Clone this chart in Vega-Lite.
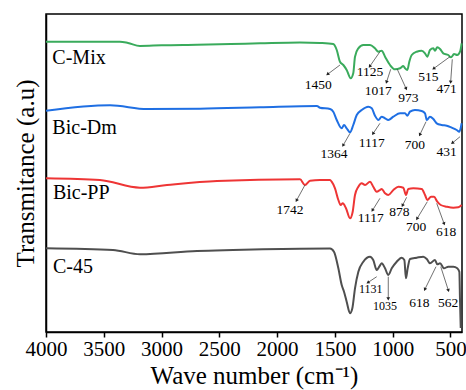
{
  "$schema": "https://vega.github.io/schema/vega-lite/v6.json",
  "width": 416,
  "height": 318,
  "autosize": "none",
  "padding": {"left": 46, "top": 14, "right": 4, "bottom": 58},
  "background": "white",
  "config": {
    "view": {"stroke": "black", "strokeWidth": 1.5},
    "font": "Liberation Serif"
  },
  "datasets": {
    "spectra": [
      {"s":"C-Mix","w":4000,"t":290.3},{"s":"C-Mix","w":3360,"t":290.3},{"s":"C-Mix","w":3290,"t":289},{"s":"C-Mix","w":3187,"t":286},{"s":"C-Mix","w":3000,"t":286.7},{"s":"C-Mix","w":2693,"t":287.3},{"s":"C-Mix","w":2400,"t":288},{"s":"C-Mix","w":2148,"t":288.7},{"s":"C-Mix","w":1802,"t":289.5},{"s":"C-Mix","w":1629,"t":289},{"s":"C-Mix","w":1514,"t":288},{"s":"C-Mix","w":1484,"t":282},{"s":"C-Mix","w":1456,"t":270.3},{"s":"C-Mix","w":1427,"t":267},{"s":"C-Mix","w":1398,"t":262},{"s":"C-Mix","w":1363,"t":253.7},{"s":"C-Mix","w":1341,"t":258.7},{"s":"C-Mix","w":1326,"t":275.3},{"s":"C-Mix","w":1297,"t":283.7},{"s":"C-Mix","w":1254,"t":287},{"s":"C-Mix","w":1196,"t":287},{"s":"C-Mix","w":1153,"t":283.7},{"s":"C-Mix","w":1124,"t":280.3},{"s":"C-Mix","w":1095,"t":281.3},{"s":"C-Mix","w":1066,"t":275.3},{"s":"C-Mix","w":1023,"t":267},{"s":"C-Mix","w":980,"t":262.7},{"s":"C-Mix","w":936,"t":263.7},{"s":"C-Mix","w":908,"t":266},{"s":"C-Mix","w":893,"t":263.7},{"s":"C-Mix","w":873,"t":262},{"s":"C-Mix","w":856,"t":270.3},{"s":"C-Mix","w":835,"t":277},{"s":"C-Mix","w":792,"t":280.3},{"s":"C-Mix","w":749,"t":281.3},{"s":"C-Mix","w":720,"t":278.7},{"s":"C-Mix","w":700,"t":275.3},{"s":"C-Mix","w":677,"t":282},{"s":"C-Mix","w":648,"t":283.7},{"s":"C-Mix","w":634,"t":281.3},{"s":"C-Mix","w":614,"t":284.7},{"s":"C-Mix","w":590,"t":283},{"s":"C-Mix","w":562,"t":278.7},{"s":"C-Mix","w":519,"t":277},{"s":"C-Mix","w":495,"t":274.7},{"s":"C-Mix","w":469,"t":278},{"s":"C-Mix","w":441,"t":277},{"s":"C-Mix","w":417,"t":280.3},{"s":"C-Mix","w":403,"t":288.7},
      {"s":"Bic-Dm","w":4000,"t":221.3},{"s":"Bic-Dm","w":3446,"t":226.7},{"s":"Bic-Dm","w":3126,"t":223},{"s":"Bic-Dm","w":2667,"t":223.3},{"s":"Bic-Dm","w":2148,"t":224.7},{"s":"Bic-Dm","w":1655,"t":226},{"s":"Bic-Dm","w":1629,"t":224.3},{"s":"Bic-Dm","w":1542,"t":223},{"s":"Bic-Dm","w":1514,"t":220.3},{"s":"Bic-Dm","w":1484,"t":212},{"s":"Bic-Dm","w":1441,"t":203.7},{"s":"Bic-Dm","w":1421,"t":207},{"s":"Bic-Dm","w":1398,"t":203.7},{"s":"Bic-Dm","w":1369,"t":199.7},{"s":"Bic-Dm","w":1341,"t":207},{"s":"Bic-Dm","w":1311,"t":217},{"s":"Bic-Dm","w":1268,"t":222},{"s":"Bic-Dm","w":1211,"t":225.3},{"s":"Bic-Dm","w":1181,"t":223.7},{"s":"Bic-Dm","w":1153,"t":216.3},{"s":"Bic-Dm","w":1124,"t":212},{"s":"Bic-Dm","w":1095,"t":215.3},{"s":"Bic-Dm","w":1066,"t":213.7},{"s":"Bic-Dm","w":1038,"t":212},{"s":"Bic-Dm","w":994,"t":215.3},{"s":"Bic-Dm","w":936,"t":218.7},{"s":"Bic-Dm","w":893,"t":218.7},{"s":"Bic-Dm","w":873,"t":216.3},{"s":"Bic-Dm","w":850,"t":220.3},{"s":"Bic-Dm","w":807,"t":222},{"s":"Bic-Dm","w":749,"t":221},{"s":"Bic-Dm","w":720,"t":218.7},{"s":"Bic-Dm","w":705,"t":212},{"s":"Bic-Dm","w":677,"t":215.3},{"s":"Bic-Dm","w":648,"t":213},{"s":"Bic-Dm","w":619,"t":208.7},{"s":"Bic-Dm","w":576,"t":207},{"s":"Bic-Dm","w":532,"t":206.3},{"s":"Bic-Dm","w":489,"t":204.3},{"s":"Bic-Dm","w":446,"t":202},{"s":"Bic-Dm","w":423,"t":200.3},{"s":"Bic-Dm","w":403,"t":208.7},
      {"s":"Bic-PP","w":4000,"t":153.7},{"s":"Bic-PP","w":3533,"t":152},{"s":"Bic-PP","w":3187,"t":144.3},{"s":"Bic-PP","w":2953,"t":147},{"s":"Bic-PP","w":2520,"t":151},{"s":"Bic-PP","w":1802,"t":152.7},{"s":"Bic-PP","w":1759,"t":147},{"s":"Bic-PP","w":1715,"t":151.3},{"s":"Bic-PP","w":1629,"t":152},{"s":"Bic-PP","w":1542,"t":152},{"s":"Bic-PP","w":1528,"t":150.3},{"s":"Bic-PP","w":1499,"t":143.7},{"s":"Bic-PP","w":1470,"t":132},{"s":"Bic-PP","w":1450,"t":127},{"s":"Bic-PP","w":1432,"t":128.7},{"s":"Bic-PP","w":1404,"t":123.7},{"s":"Bic-PP","w":1369,"t":113.7},{"s":"Bic-PP","w":1346,"t":120.3},{"s":"Bic-PP","w":1326,"t":137},{"s":"Bic-PP","w":1297,"t":145.3},{"s":"Bic-PP","w":1268,"t":148.7},{"s":"Bic-PP","w":1239,"t":147},{"s":"Bic-PP","w":1196,"t":150.3},{"s":"Bic-PP","w":1168,"t":145.3},{"s":"Bic-PP","w":1138,"t":140.3},{"s":"Bic-PP","w":1110,"t":142},{"s":"Bic-PP","w":1095,"t":143},{"s":"Bic-PP","w":1066,"t":138.7},{"s":"Bic-PP","w":1038,"t":137},{"s":"Bic-PP","w":994,"t":142},{"s":"Bic-PP","w":951,"t":145.3},{"s":"Bic-PP","w":908,"t":144.3},{"s":"Bic-PP","w":885,"t":137},{"s":"Bic-PP","w":865,"t":143},{"s":"Bic-PP","w":821,"t":143.7},{"s":"Bic-PP","w":749,"t":143},{"s":"Bic-PP","w":720,"t":137},{"s":"Bic-PP","w":700,"t":132},{"s":"Bic-PP","w":668,"t":135.3},{"s":"Bic-PP","w":642,"t":135.3},{"s":"Bic-PP","w":614,"t":130.3},{"s":"Bic-PP","w":584,"t":127},{"s":"Bic-PP","w":532,"t":125.3},{"s":"Bic-PP","w":475,"t":124.3},{"s":"Bic-PP","w":432,"t":124.7},{"s":"Bic-PP","w":403,"t":127},
      {"s":"C-45","w":4000,"t":83.7},{"s":"C-45","w":3420,"t":82},{"s":"C-45","w":3187,"t":77.7},{"s":"C-45","w":2693,"t":81},{"s":"C-45","w":2382,"t":82},{"s":"C-45","w":2122,"t":82.7},{"s":"C-45","w":1542,"t":83.5},{"s":"C-45","w":1508,"t":80.3},{"s":"C-45","w":1470,"t":63.7},{"s":"C-45","w":1441,"t":47},{"s":"C-45","w":1421,"t":40.3},{"s":"C-45","w":1398,"t":30.3},{"s":"C-45","w":1369,"t":18.7},{"s":"C-45","w":1349,"t":23.7},{"s":"C-45","w":1326,"t":43.7},{"s":"C-45","w":1297,"t":60.3},{"s":"C-45","w":1254,"t":70.3},{"s":"C-45","w":1196,"t":75.3},{"s":"C-45","w":1168,"t":72},{"s":"C-45","w":1138,"t":62},{"s":"C-45","w":1116,"t":65.3},{"s":"C-45","w":1095,"t":68.7},{"s":"C-45","w":1066,"t":63.7},{"s":"C-45","w":1038,"t":57},{"s":"C-45","w":1008,"t":63.7},{"s":"C-45","w":965,"t":70.3},{"s":"C-45","w":922,"t":74.3},{"s":"C-45","w":899,"t":72},{"s":"C-45","w":885,"t":53.7},{"s":"C-45","w":870,"t":63.7},{"s":"C-45","w":850,"t":73},{"s":"C-45","w":792,"t":74.3},{"s":"C-45","w":735,"t":75.3},{"s":"C-45","w":705,"t":73},{"s":"C-45","w":677,"t":68.7},{"s":"C-45","w":634,"t":72},{"s":"C-45","w":614,"t":67.7},{"s":"C-45","w":590,"t":68.7},{"s":"C-45","w":556,"t":63.7},{"s":"C-45","w":519,"t":65.3},{"s":"C-45","w":475,"t":65.3},{"s":"C-45","w":441,"t":63.7},{"s":"C-45","w":423,"t":60.3},{"s":"C-45","w":417,"t":30.3},{"s":"C-45","w":411,"t":4}
    ],
    "peaks": [
      {"s":"C-Mix","lab":"1450","lw":1644,"lt":247,"w1":1456,"t1":267,"w2":1560,"t2":258},
      {"s":"C-Mix","lab":"1125","lw":1196,"lt":259.7,"w1":1110,"t1":280.3,"w2":1196,"t2":266},
      {"s":"C-Mix","lab":"1017","lw":1124,"lt":241.3,"w1":1017,"t1":262.7,"w2":1052,"t2":250.3},
      {"s":"C-Mix","lab":"973","lw":865,"lt":234.3,"w1":960,"t1":262.7,"w2":885,"t2":243.7},
      {"s":"C-Mix","lab":"515","lw":692,"lt":254.7,"w1":504,"t1":275.3,"w2":642,"t2":263.7},
      {"s":"C-Mix","lab":"471","lw":532,"lt":242.7,"w1":484,"t1":272.7,"w2":498,"t2":250.3},
      {"s":"Bic-Dm","lab":"1364","lw":1508,"lt":177.7,"w1":1369,"t1":198.7,"w2":1427,"t2":187},
      {"s":"Bic-Dm","lab":"1117","lw":1181,"lt":189.3,"w1":1110,"t1":208.7,"w2":1168,"t2":198.7},
      {"s":"Bic-Dm","lab":"700","lw":807,"lt":187,"w1":711,"t1":210.3,"w2":763,"t2":197.7},
      {"s":"Bic-Dm","lab":"431","lw":532,"lt":180.3,"w1":417,"t1":195.3,"w2":480,"t2":189.3},
      {"s":"Bic-PP","lab":"1742","lw":1888,"lt":122,"w1":1759,"t1":147,"w2":1830,"t2":132},
      {"s":"Bic-PP","lab":"1117","lw":1190,"lt":114.3,"w1":1110,"t1":133.7,"w2":1173,"t2":122},
      {"s":"Bic-PP","lab":"878","lw":943,"lt":120.3,"w1":879,"t1":134.7,"w2":913,"t2":127},
      {"s":"Bic-PP","lab":"700","lw":798,"lt":104.7,"w1":700,"t1":130.3,"w2":787,"t2":113.7},
      {"s":"Bic-PP","lab":"618","lw":538,"lt":100.3,"w1":619,"t1":128.7,"w2":556,"t2":108.7},
      {"s":"C-45","lab":"1131","lw":1190,"lt":43,"w1":1138,"t1":55.3,"w2":1211,"t2":49.7},
      {"s":"C-45","lab":"1035","lw":1066,"lt":26,"w1":1038,"t1":55.3,"w2":1038,"t2":33.7},
      {"s":"C-45","lab":"618","lw":769,"lt":28.7,"w1":625,"t1":65.3,"w2":720,"t2":43},
      {"s":"C-45","lab":"562","lw":519,"lt":28.7,"w1":584,"t1":65.3,"w2":519,"t2":42}
    ],
    "names": [
      {"s":"C-Mix","w":3945,"t":274},
      {"s":"Bic-Dm","w":3945,"t":204.3},
      {"s":"Bic-PP","w":3940,"t":138.7},
      {"s":"C-45","w":3940,"t":65.3}
    ]
  },
  "layer": [
    {
      "data": {"name": "spectra"},
      "mark": {"type": "line", "strokeWidth": 2, "interpolate": "monotone"},
      "encoding": {
        "x": {
          "field": "w", "type": "quantitative",
          "scale": {"domain": [4000, 400], "nice": false, "zero": false},
          "axis": {
            "title": "Wave number (cm⁻¹)",
            "titleFont": "Liberation Serif", "titleFontSize": 25, "titleFontWeight": "normal", "titleColor": "black",
            "titlePadding": 4,
            "values": [4000,3750,3500,3250,3000,2750,2500,2250,2000,1750,1500,1250,1000,750,500],
            "labelExpr": "datum.value % 500 === 0 ? datum.label : ''",
            "format": "d",
            "labelFont": "Liberation Serif", "labelFontSize": 21, "labelColor": "black",
            "labelPadding": 1, "labelFlush": false, "labelOverlap": false,
            "tickSize": {"condition": {"test": "datum.value % 500 === 0", "value": 5}, "value": 3},
            "tickColor": "black", "tickWidth": 1.5,
            "domainColor": "black", "domainWidth": 1.5,
            "grid": false
          }
        },
        "y": {
          "field": "t", "type": "quantitative",
          "scale": {"domain": [0, 318], "nice": false, "zero": false},
          "axis": {
            "title": "Transmitance (a.u)",
            "titleFont": "Liberation Serif", "titleFontSize": 25, "titleFontWeight": "normal", "titleColor": "black",
            "titlePadding": 8,
            "labels": false, "ticks": false, "grid": false,
            "domainColor": "black", "domainWidth": 1.5
          }
        },
        "color": {
          "field": "s", "type": "nominal",
          "scale": {"domain": ["C-Mix","Bic-Dm","Bic-PP","C-45"], "range": ["#3aab5c","#1f6fe3","#ee3535","#4f4f4f"]},
          "legend": null
        }
      }
    },
    {
      "data": {"name": "peaks"},
      "mark": {"type": "rule", "color": "#333333", "strokeWidth": 0.7},
      "encoding": {
        "x": {"field": "w1", "type": "quantitative"},
        "y": {"field": "t1", "type": "quantitative"},
        "x2": {"field": "w2"},
        "y2": {"field": "t2"}
      }
    },
    {
      "data": {"name": "peaks"},
      "transform": [
        {"calculate": "atan2(-(datum.w2 - datum.w1) * 0.11556, datum.t2 - datum.t1) * 180 / PI", "as": "ang"}
      ],
      "mark": {"type": "point", "shape": "triangle", "filled": true, "color": "#222222", "size": 14, "opacity": 1},
      "encoding": {
        "x": {"field": "w2", "type": "quantitative"},
        "y": {"field": "t2", "type": "quantitative"},
        "angle": {"field": "ang", "type": "quantitative", "scale": null}
      }
    },
    {
      "data": {"name": "peaks"},
      "mark": {"type": "text", "font": "Liberation Serif", "color": "black", "baseline": "middle", "align": "center"},
      "encoding": {
        "x": {"field": "lw", "type": "quantitative"},
        "y": {"field": "lt", "type": "quantitative"},
        "text": {"field": "lab"},
        "size": {"condition": {"test": "datum.s === 'C-45' && (datum.lab === '1131' || datum.lab === '1035')", "value": 12}, "value": 13.5}
      }
    },
    {
      "data": {"name": "names"},
      "mark": {"type": "text", "font": "Liberation Serif", "fontSize": 20, "color": "black", "baseline": "middle", "align": "left"},
      "encoding": {
        "x": {"field": "w", "type": "quantitative"},
        "y": {"field": "t", "type": "quantitative"},
        "text": {"field": "s"}
      }
    }
  ]
}
